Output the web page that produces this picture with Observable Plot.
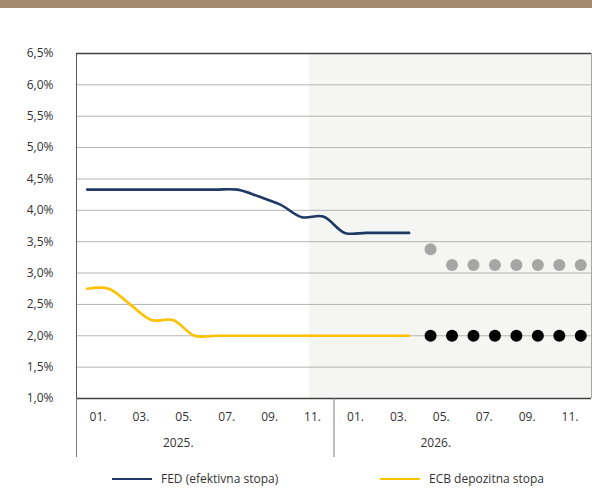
<!DOCTYPE html>
<html>
<head>
<meta charset="utf-8">
<script src="https://cdn.jsdelivr.net/npm/d3@7"></script>
<script src="https://cdn.jsdelivr.net/npm/@observablehq/plot@0.6"></script>
<style>
  body { margin: 0; background: #fff; font-family: "Open Sans", sans-serif; }
  #wrap { position: relative; width: 592px; height: 488px; overflow: hidden; background: #fff; }
  #banner { position: absolute; left: 0; top: 0; width: 592px; height: 8px; background: #a48a6e; }
  #chart { position: absolute; left: 0; top: 8px; }
  .leg { position: absolute; top: 471px; height: 16px; line-height: 16px; font-size: 12px; color: #333;
         display: flex; align-items: center; white-space: nowrap; }
  .sw { display: inline-block; width: 40px; height: 2.6px; margin-right: 9px; }
</style>
</head>
<body>
<div id="wrap">
  <div id="banner"></div>
  <div id="chart"></div>
</div>
<script>
// ---- data ----
const seriesNames = ["FED (efektivna stopa)", "ECB depozitna stopa"];
const seriesColors = ["#1f3864", "#ffc000"];
// monthly history Jan 2025 .. Apr 2026 (month index 0..15)
const histMonths = [0, 1, 2, 3, 4, 5, 6, 7, 8, 9, 10, 11, 12, 13, 14, 15];
const fedRate = [4.33, 4.33, 4.33, 4.33, 4.33, 4.33, 4.33, 4.33, 4.22, 4.09, 3.89, 3.90, 3.64, 3.64, 3.64, 3.64];
const ecbRate = [2.75, 2.75, 2.50, 2.25, 2.25, 2.00, 2.00, 2.00, 2.00, 2.00, 2.00, 2.00, 2.00, 2.00, 2.00, 2.00];
// market expectations May 2026 .. Dec 2026 (month index 16..23)
const projMonths = [16, 17, 18, 19, 20, 21, 22, 23];
const fedProj = [3.38, 3.13, 3.13, 3.13, 3.13, 3.13, 3.13, 3.13];
const ecbProj = [2.00, 2.00, 2.00, 2.00, 2.00, 2.00, 2.00, 2.00];
// forecast shaded region starts (month units)
const forecastStart = 10.85;
const yTicks = [1.0, 1.5, 2.0, 2.5, 3.0, 3.5, 4.0, 4.5, 5.0, 5.5, 6.0, 6.5];
const monthTickPos = [1, 3, 5, 7, 9, 11, 13, 15, 17, 19, 21, 23];
const monthTickLabels = ["01.", "03.", "05.", "07.", "09.", "11.", "01.", "03.", "05.", "07.", "09.", "11."];
const yearBoundaries = [0, 12];
const yearCenters = [6, 18];
const yearLabels = ["2025.", "2026."];

// ---- tables ----
const hist = histMonths.map((m, i) => ({ x: m + 0.5, fed: fedRate[i], ecb: ecbRate[i] }));
const proj = projMonths.map((m, i) => ({ x: m + 0.5, fed: fedProj[i], ecb: ecbProj[i] }));
const fmtY = v => v.toFixed(1).replace(".", ",") + "%";

const chart = Plot.plot({
  width: 592,
  height: 452,
  marginTop: 45,
  marginBottom: 62,
  marginLeft: 76,
  marginRight: 1,
  x: { type: "linear", domain: [0, 24], axis: null },
  y: { domain: [1, 6.5], axis: null },
  style: { fontFamily: "'Open Sans', sans-serif", fontSize: "12px", color: "#333", background: "transparent", overflow: "visible" },
  marks: [
    Plot.rect([{ x1: forecastStart, x2: 24 }], { x1: "x1", x2: "x2", y1: yTicks[0], y2: yTicks[yTicks.length - 1], fill: "#f5f5f3" }),
    Plot.ruleY(yTicks.slice(1, -1), { stroke: "#b3b3b3", strokeWidth: 1 }),
    Plot.ruleX([0], { stroke: "#595959", strokeWidth: 1 }),
    Plot.ruleX([24], { stroke: "#a6a6a6", strokeWidth: 1 }),
    Plot.ruleY([yTicks[yTicks.length - 1]], { stroke: "#404040", strokeWidth: 1.5 }),
    Plot.ruleY([yTicks[0]], { stroke: "#404040", strokeWidth: 1.5 }),
    Plot.axisY({ ticks: yTicks, tickSize: 0, tickPadding: 23, tickFormat: fmtY, fill: "#333", fontSize: 12 }),
    Plot.axisX({ ticks: yearBoundaries, tickSize: 59, tickFormat: () => "", stroke: "#7f7f7f" }),
    Plot.axisX({ ticks: monthTickPos, tickSize: 0, tickPadding: 14, fill: "#333", fontSize: 12,
                 tickFormat: v => monthTickLabels[monthTickPos.indexOf(v)] }),
    Plot.axisX({ ticks: yearCenters, tickSize: 0, tickPadding: 40, dx: -27, fill: "#333", fontSize: 12,
                 tickFormat: v => yearLabels[yearCenters.indexOf(v)] }),
    Plot.line(hist, { x: "x", y: "ecb", stroke: seriesColors[1], strokeWidth: 2.6, curve: "catmull-rom" }),
    Plot.line(hist, { x: "x", y: "fed", stroke: seriesColors[0], strokeWidth: 2.6, curve: "catmull-rom" }),
    Plot.dot(proj, { x: "x", y: "fed", r: 6, fill: "#a6a6a6", stroke: "none" }),
    Plot.dot(proj, { x: "x", y: "ecb", r: 6, fill: "#000", stroke: "none" })
  ]
});
document.getElementById("chart").appendChild(chart);

// legend
const legLeft = [112, 380];
const wrap = document.getElementById("wrap");
seriesNames.forEach((name, i) => {
  const d = document.createElement("div");
  d.className = "leg";
  d.style.left = legLeft[i] + "px";
  const s = document.createElement("span");
  s.className = "sw";
  s.style.background = seriesColors[i];
  d.appendChild(s);
  d.appendChild(document.createTextNode(name));
  wrap.appendChild(d);
});
</script>
</body>
</html>
